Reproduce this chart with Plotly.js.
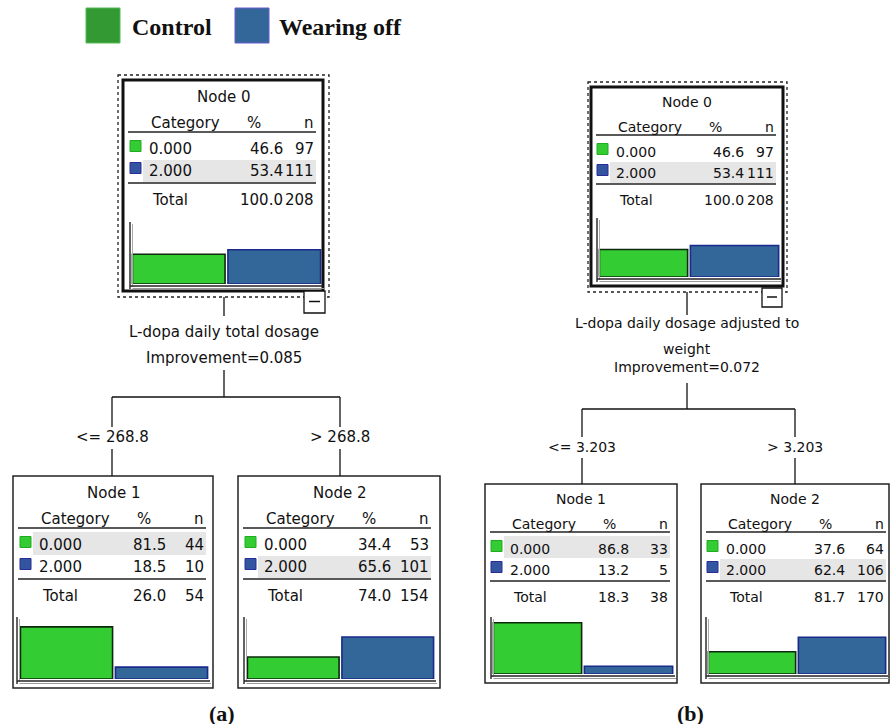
<!DOCTYPE html>
<html>
<head>
<meta charset="utf-8">
<script src="https://cdn.plot.ly/plotly-3.0.1.min.js"></script>
<style>html,body{margin:0;padding:0;background:#fff;}</style>
</head>
<body>
<div id="chart" style="width:890px;height:724px;"></div>
<script>
// ---------------- DATA ----------------
const categories = ["0.000", "2.000"];
const classNames = ["Control", "Wearing off"];
const nodeLabels = ["Node 0", "Node 1", "Node 2"];
const panelLabels = ["(a)", "(b)"];

const pctA = [[46.6, 53.4], [81.5, 18.5], [34.4, 65.6]];
const nA = [[97, 111], [44, 10], [53, 101]];
const totalPctA = [100.0, 26.0, 74.0];
const totalNA = [208, 54, 154];
const splitA = ["L-dopa daily total dosage"];
const improvementA = "0.085";
const branchesA = ["<= 268.8", "> 268.8"];

const pctB = [[46.6, 53.4], [86.8, 13.2], [37.6, 62.4]];
const nB = [[97, 111], [33, 5], [64, 106]];
const totalPctB = [100.0, 18.3, 81.7];
const totalNB = [208, 38, 170];
const splitB = ["L-dopa daily dosage adjusted to", "weight"];
const improvementB = "0.072";
const branchesB = ["<= 3.203", "> 3.203"];

// ---------------- STYLE / GEOMETRY ----------------
const W = 890, H = 724;
const BAR_GREEN = '#33cc33', BAR_BLUE = '#336699';
const SQ_GREEN = '#33cc33', SQ_BLUE = '#3355a0';
const TXT = '#111111';
const FONT = 'DejaVu Sans, Verdana, sans-serif';

const geomA = {
  font: 15,
  off: {sq0: 7, sq1: 18, lab: 25, cat: 27, pctH: 131, pctRoot: 161, pctLeaf: 154, nR: 192, ln0: 5, ln1: 193, sh0: 20, sh1: 193},
  dy: {title: 17, cat: 43, hl: 52, r1: 69, r2: 91, sh1: [56, 79], sh2: [80, 102], ul: 103, tot: 120},
  boxes: [[123, 80, 323, 291], [13, 476, 213, 688], [238, 476, 440, 688]],
  dashed: [118, 75, 329, 297], minus: [304, 291, 325, 313],
  bars: [[131, 322, 220, 284, 130, 222], [19, 209, 615, 679, 17, 617], [246, 435, 615, 679, 244, 617]],
  conn: {rootX: 224, y0: 297, y1: 316, splitY: [332], impY: 358, l2: [370, 397], hx: [112, 340], v: [397, 427], brY: 437, v2: [449, 476]},
  caption: [222, 713]
};
const geomB = {
  font: 14,
  off: {sq0: 6, sq1: 17, lab: 24, cat: 26, pctH: 124, pctRoot: 154, pctLeaf: 145, nR: 184, ln0: 5, ln1: 185, sh0: 19, sh1: 185},
  dy: {title: 15, cat: 40, hl: 48, r1: 65, r2: 86, sh1: [52, 74], sh2: [75, 96], ul: 97, tot: 113},
  boxes: [[591, 87, 783, 286], [485, 484, 677, 683], [701, 484, 889, 683]],
  dashed: [588, 82, 787, 292], minus: [762, 288, 782, 307],
  bars: [[598, 780, 218, 277, 597, 218], [492, 674, 615, 674, 491, 617], [707, 887, 615, 674, 706, 617]],
  conn: {rootX: 687, y0: 292, y1: 315, splitY: [323, 349], impY: 367, l2: [383, 409], hx: [582, 795], v: [409, 437], brY: 447, v2: [458, 484]},
  caption: [690, 713]
};

const esc = s => String(s).replace(/&/g, '&amp;').replace(/</g, '&lt;').replace(/>/g, '&gt;');

const shapes = [];
const annotations = [];
const traces = [{x: [0], y: [0], xaxis: 'x', yaxis: 'y', mode: 'markers', marker: {opacity: 0}, hoverinfo: 'skip', showlegend: false}];
const layout = {
  width: W, height: H, margin: {l: 0, r: 0, t: 0, b: 0},
  paper_bgcolor: '#ffffff', plot_bgcolor: 'rgba(0,0,0,0)',
  showlegend: false, bargap: 0.03, hovermode: false,
  xaxis: {range: [0, W], domain: [0, 1], visible: false, fixedrange: true},
  yaxis: {range: [H, 0], domain: [0, 1], visible: false, fixedrange: true},
  shapes: shapes, annotations: annotations
};

function line(x0, y0, x1, y1, color, width, dash) {
  shapes.push({type: 'line', xref: 'x', yref: 'y', x0, y0, x1, y1, line: {color: color || '#111', width: width || 1.5, dash: dash || 'solid'}});
}
function rect(x0, y0, x1, y1, fill, lineColor, lineWidth, layer, dash) {
  shapes.push({type: 'rect', xref: 'x', yref: 'y', x0, y0, x1, y1, fillcolor: fill || 'rgba(0,0,0,0)',
    line: {color: lineColor || 'rgba(0,0,0,0)', width: lineWidth || 0, dash: dash || 'solid'}, layer: layer || 'above'});
}
function text(x, y, t, anchor, size, opts) {
  opts = opts || {};
  annotations.push({xref: 'x', yref: 'y', x, y, text: t, showarrow: false, xanchor: anchor || 'center', yanchor: 'middle',
    font: {family: opts.family || FONT, size: size, color: opts.color || TXT}, borderpad: 0});
}

let axisIdx = 2;
function buildTree(g, pct, ns, totPct, totN, split, imp, branches, caption) {
  for (let k = 0; k < 3; k++) {
    const [bx0, by0, bx1, by1] = g.boxes[k];
    const root = k === 0;
    const o = g.off, d = g.dy, fs = g.font;
    // box
    if (root) {
      rect(g.dashed[0], g.dashed[1], g.dashed[2], g.dashed[3], null, '#222', 1.3, 'above', '3px,3px');
      rect(bx0, by0, bx1, by1, null, '#111', 3);
    } else {
      rect(bx0, by0, bx1, by1, null, '#222', 1.5);
    }
    const cx = (bx0 + bx1) / 2;
    // majority row shading
    const maj = pct[k][0] >= pct[k][1] ? 0 : 1;
    const sh = maj === 0 ? d.sh1 : d.sh2;
    rect(bx0 + o.sh0, by0 + sh[0], bx0 + o.sh1, by0 + sh[1], '#e6e6e6', null, 0, 'below');
    // texts
    text(cx, by0 + d.title, nodeLabels[k], 'center', fs);
    text(bx0 + o.cat, by0 + d.cat, 'Category', 'left', fs);
    text(bx0 + o.pctH, by0 + d.cat, '%', 'center', fs);
    text(bx0 + o.nR, by0 + d.cat, 'n', 'right', fs);
    line(bx0 + o.ln0, by0 + d.hl, bx0 + o.ln1, by0 + d.hl, '#222', 1.6);
    const pr = root ? o.pctRoot : o.pctLeaf;
    const rows = [d.r1, d.r2];
    for (let r = 0; r < 2; r++) {
      const yy = by0 + rows[r];
      const sz = o.sq1 - o.sq0;
      rect(bx0 + o.sq0, yy - 3 - sz / 2, bx0 + o.sq1, yy - 3 + sz / 2, r === 0 ? SQ_GREEN : SQ_BLUE, r === 0 ? '#22aa22' : '#2a2a9a', 1);
      text(bx0 + o.lab, yy, categories[r], 'left', fs);
      text(bx0 + pr, yy, pct[k][r].toFixed(1), 'right', fs);
      text(bx0 + o.nR, yy, String(ns[k][r]), 'right', fs);
    }
    line(bx0 + o.ln0, by0 + d.ul, bx0 + o.ln1, by0 + d.ul, '#222', 1.6);
    text(bx0 + o.cat + 1, by0 + d.tot, 'Total', 'left', fs);
    text(bx0 + pr, by0 + d.tot, totPct[k].toFixed(1), 'right', fs);
    text(bx0 + o.nR, by0 + d.tot, String(totN[k]), 'right', fs);
    // bar chart subplot
    const [px0, px1, yt, yb, axX, axTop] = g.bars[k];
    const xa = 'xaxis' + axisIdx, ya = 'yaxis' + axisIdx;
    layout[xa] = {domain: [px0 / W, px1 / W], anchor: 'y' + axisIdx, type: 'category', range: [-0.5, 1.5],
      showticklabels: false, showgrid: false, zeroline: false, showline: false, ticks: '', fixedrange: true};
    layout[ya] = {domain: [1 - yb / H, 1 - yt / H], anchor: 'x' + axisIdx, range: [0, 100],
      showticklabels: false, showgrid: false, zeroline: false, showline: false, ticks: '', fixedrange: true};
    traces.push({type: 'bar', x: categories, y: pct[k], xaxis: 'x' + axisIdx, yaxis: 'y' + axisIdx,
      marker: {color: [BAR_GREEN, BAR_BLUE], line: {color: ['#0d2a0d', '#1a2a8a'], width: 1.6}},
      hoverinfo: 'skip', showlegend: false});
    axisIdx++;
    // bar frame
    line(axX, axTop, axX, yb + 5, '#222', 1.4);
    line(axX + 2.5, axTop + 2, axX + 2.5, yb + 3, '#aaaaaa', 1);
    line(axX, yb + 2, px1 + 1, yb + 2, '#222', 1.4);
    line(axX + 2.5, yb + 4.5, px1 + 2, yb + 4.5, '#999999', 1.2);
  }
  // minus toggle box
  const m = g.minus;
  rect(m[0], m[1], m[2], m[3], '#ffffff', '#111', 1.3);
  line(m[0] + 5, (m[1] + m[3]) / 2 - 0.5, m[2] - 5, (m[1] + m[3]) / 2 - 0.5, '#111', 1.5);
  // connectors
  const c = g.conn;
  line(c.rootX, c.y0, c.rootX, c.y1, '#111', 1.3);
  split.forEach((s, i) => text(c.rootX, c.splitY[i], esc(s), 'center', g.font));
  text(c.rootX, c.impY, 'Improvement=' + imp, 'center', g.font);
  line(c.rootX, c.l2[0], c.rootX, c.l2[1], '#111', 1.3);
  line(c.hx[0], c.l2[1], c.hx[1], c.l2[1], '#111', 1.3);
  for (let j = 0; j < 2; j++) {
    line(c.hx[j], c.v[0], c.hx[j], c.v[1], '#111', 1.3);
    text(c.hx[j], c.brY, esc(branches[j]), 'center', g.font);
    line(c.hx[j], c.v2[0], c.hx[j], c.v2[1], '#111', 1.3);
  }
  text(g.caption[0], g.caption[1], '<b>' + esc(caption) + '</b>', 'center', 22, {family: 'Liberation Serif, Times New Roman, serif', color: '#111'});
}

buildTree(geomA, pctA, nA, totalPctA, totalNA, splitA, improvementA, branchesA, panelLabels[0]);
buildTree(geomB, pctB, nB, totalPctB, totalNB, splitB, improvementB, branchesB, panelLabels[1]);

// legend
rect(86, 8, 120, 43, '#339933', '#55bb55', 1);
text(131, 27, '<b>' + classNames[0] + '</b>', 'left', 24, {family: 'Liberation Serif, Times New Roman, serif', color: '#111'});
rect(235, 8, 269, 43, '#336699', '#6a5acd', 1);
text(278, 27, '<b>' + classNames[1] + '</b>', 'left', 24, {family: 'Liberation Serif, Times New Roman, serif', color: '#111'});

Plotly.newPlot('chart', traces, layout, {staticPlot: true, displayModeBar: false});
</script>
</body>
</html>
